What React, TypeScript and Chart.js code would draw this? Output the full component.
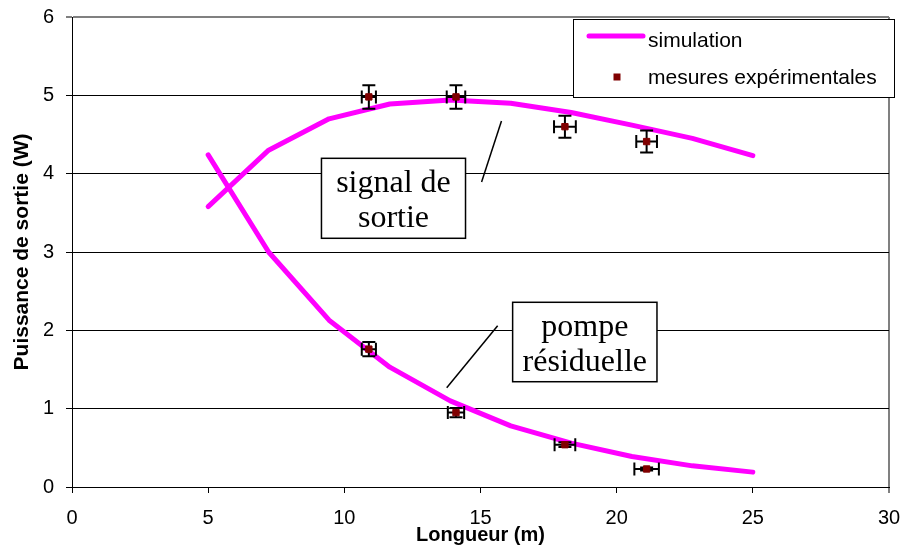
import React, { useEffect, useRef } from "react";
import { Chart, registerables } from "chart.js";

Chart.register(...registerables);

// Simulated output power along the fibre length (m → W)
const simLength = [5, 7.22, 9.44, 11.67, 13.89, 16.11, 18.33, 20.56, 22.78, 25];
const simSignal = [3.58, 4.3, 4.7, 4.89, 4.94, 4.9, 4.78, 4.62, 4.45, 4.23];
const simPump = [4.24, 3.0, 2.13, 1.53, 1.1, 0.78, 0.56, 0.39, 0.27, 0.19];

// Measured points with their uncertainties
const measLength = [10.9, 14.1, 18.1, 21.1];
const measSignal = [4.98, 4.98, 4.6, 4.41];
const measPump = [1.76, 0.95, 0.54, 0.23];
const signalErrX = [0.26, 0.34, 0.4, 0.38];
const signalErrY = [0.15, 0.15, 0.14, 0.14];
const pumpErrX = [0.26, 0.3, 0.38, 0.45];
const pumpErrY = [0.09, 0.06, 0.03, 0.02];

const xTicks = [0, 5, 10, 15, 20, 25, 30];
const yTicks = [0, 1, 2, 3, 4, 5, 6];
const legendLabels = ["simulation", "mesures expérimentales"];
const xTitle = "Longueur (m)";
const yTitle = "Puissance de sortie (W)";

const SANS = "'Liberation Sans', Arial, sans-serif";
const SERIF = "'Liberation Serif', 'Times New Roman', serif";
const MAGENTA = "#FF00FF";
const MARKER = "#800000";

// Callout boxes, placed in axis units
const callouts = [
  {
    lines: ["signal de", "sortie"],
    box: { x0: 9.16, x1: 14.45, y0: 4.196, y1: 3.175 },
    leader: { xa: 15.77, ya: 4.673, xb: 15.04, yb: 3.894 },
  },
  {
    lines: ["pompe", "résiduelle"],
    box: { x0: 16.18, x1: 21.48, y0: 2.358, y1: 1.344 },
    leader: { xa: 15.63, ya: 2.059, xb: 13.76, yb: 1.268 },
  },
];

const errorBarsPlugin = {
  id: "errorBars",
  beforeDatasetDraw(chart: any, args: any) {
    const ds = chart.data.datasets[args.index];
    if (!ds.errX) return;
    const xs = chart.scales.x;
    const ys = chart.scales.y;
    const ctx = chart.ctx;
    const cap = 6.5;
    ctx.save();
    ctx.strokeStyle = "#000";
    ctx.lineWidth = 2;
    ds.data.forEach((p: any, i: number) => {
      const px = xs.getPixelForValue(p.x);
      const py = ys.getPixelForValue(p.y);
      const xl = xs.getPixelForValue(p.x - ds.errX[i]);
      const xr = xs.getPixelForValue(p.x + ds.errX[i]);
      const yt = ys.getPixelForValue(p.y + ds.errY[i]);
      const yb = ys.getPixelForValue(p.y - ds.errY[i]);
      ctx.beginPath();
      ctx.moveTo(xl, py);
      ctx.lineTo(xr, py);
      ctx.moveTo(xl, py - cap);
      ctx.lineTo(xl, py + cap);
      ctx.moveTo(xr, py - cap);
      ctx.lineTo(xr, py + cap);
      ctx.moveTo(px, yt);
      ctx.lineTo(px, yb);
      ctx.moveTo(px - cap, yt);
      ctx.lineTo(px + cap, yt);
      ctx.moveTo(px - cap, yb);
      ctx.lineTo(px + cap, yb);
      ctx.stroke();
    });
    ctx.restore();
  },
};

const decorPlugin = {
  id: "decor",
  afterDraw(chart: any) {
    const ctx = chart.ctx;
    const xs = chart.scales.x;
    const ys = chart.scales.y;
    ctx.save();

    // callouts
    callouts.forEach((c) => {
      const bx0 = xs.getPixelForValue(c.box.x0);
      const bx1 = xs.getPixelForValue(c.box.x1);
      const by0 = ys.getPixelForValue(c.box.y0);
      const by1 = ys.getPixelForValue(c.box.y1);
      ctx.fillStyle = "#fff";
      ctx.fillRect(bx0, by0, bx1 - bx0, by1 - by0);
      ctx.strokeStyle = "#000";
      ctx.lineWidth = 1.5;
      ctx.strokeRect(bx0, by0, bx1 - bx0, by1 - by0);
      ctx.fillStyle = "#000";
      ctx.font = `32px ${SERIF}`;
      ctx.textAlign = "center";
      ctx.textBaseline = "alphabetic";
      const cx = (bx0 + bx1) / 2;
      ctx.fillText(c.lines[0], cx, by0 + 34);
      ctx.fillText(c.lines[1], cx, by0 + 69);
      ctx.beginPath();
      ctx.lineWidth = 1.5;
      ctx.moveTo(xs.getPixelForValue(c.leader.xa), ys.getPixelForValue(c.leader.ya));
      ctx.lineTo(xs.getPixelForValue(c.leader.xb), ys.getPixelForValue(c.leader.yb));
      ctx.stroke();
    });

    // legend
    const lx0 = 565, ly0 = 11, lx1 = 886, ly1 = 89;
    ctx.fillStyle = "#fff";
    ctx.fillRect(lx0, ly0, lx1 - lx0, ly1 - ly0);
    ctx.strokeStyle = "#000";
    ctx.lineWidth = 1;
    ctx.strokeRect(lx0 + 0.5, ly0 + 0.5, lx1 - lx0, ly1 - ly0);
    ctx.strokeStyle = MAGENTA;
    ctx.lineWidth = 5;
    ctx.lineCap = "round";
    ctx.beginPath();
    ctx.moveTo(581, 28);
    ctx.lineTo(635, 28);
    ctx.stroke();
    ctx.fillStyle = MARKER;
    ctx.fillRect(605.5, 65.5, 7, 7);
    ctx.fillStyle = "#000";
    ctx.font = `21px ${SANS}`;
    ctx.textAlign = "left";
    ctx.textBaseline = "alphabetic";
    ctx.fillText(legendLabels[0], 640, 38.5);
    ctx.fillText(legendLabels[1], 640, 75.5);
    ctx.restore();
  },
};

const zeroPadding = (s: any) => {
  s.paddingLeft = 0;
  s.paddingRight = 0;
  s.paddingTop = 0;
  s.paddingBottom = 0;
};

export default function App() {
  const ref = useRef<HTMLCanvasElement | null>(null);

  useEffect(() => {
    if (!ref.current) return;
    // the wrapper supplies the 8px inset itself, so the page fits the window exactly
    const prevMargin = document.body.style.margin;
    document.body.style.margin = "0";
    const chart = new Chart(ref.current, {
      type: "scatter",
      data: {
        datasets: [
          {
            label: legendLabels[1],
            data: measLength.map((x, i) => ({ x, y: measSignal[i] })),
            errX: signalErrX,
            errY: signalErrY,
            pointStyle: "rect",
            pointRadius: 4.5,
            pointBorderWidth: 1,
            backgroundColor: MARKER,
            borderColor: MARKER,
          } as any,
          {
            label: legendLabels[1],
            data: measLength.map((x, i) => ({ x, y: measPump[i] })),
            errX: pumpErrX,
            errY: pumpErrY,
            pointStyle: "rect",
            pointRadius: 4.5,
            pointBorderWidth: 1,
            backgroundColor: MARKER,
            borderColor: MARKER,
          } as any,
          {
            label: legendLabels[0],
            data: simLength.map((x, i) => ({ x, y: simSignal[i] })),
            showLine: true,
            borderColor: MAGENTA,
            borderWidth: 5,
            borderCapStyle: "round",
            borderJoinStyle: "round",
            pointRadius: 0,
          } as any,
          {
            label: legendLabels[0],
            data: simLength.map((x, i) => ({ x, y: simPump[i] })),
            showLine: true,
            borderColor: MAGENTA,
            borderWidth: 5,
            borderCapStyle: "round",
            borderJoinStyle: "round",
            pointRadius: 0,
          } as any,
        ],
      },
      options: {
        animation: false,
        responsive: true,
        maintainAspectRatio: false,
        layout: { padding: { top: 9, right: 17, left: 0, bottom: 0 } },
        plugins: {
          legend: { display: false },
          tooltip: { enabled: false },
        },
        scales: {
          x: {
            type: "linear",
            min: 0,
            max: 30,
            afterBuildTicks: (s: any) => {
              s.ticks = xTicks.map((v) => ({ value: v }));
            },
            afterFit: (s: any) => {
              s.height = 61;
              zeroPadding(s);
            },
            ticks: {
              color: "#000",
              font: { family: SANS, size: 20 },
              padding: 13,
              maxRotation: 0,
            },
            grid: {
              drawOnChartArea: true,
              color: (c: any) => (c.tick && c.tick.value === 30 ? "#808080" : "rgba(0,0,0,0)"),
              lineWidth: (c: any) => (c.tick && c.tick.value === 30 ? 2 : 1),
              tickColor: "#000",
              tickLength: 6,
              tickWidth: 1,
            },
            border: { display: true, color: "#000", width: 1 },
            title: {
              display: true,
              text: xTitle,
              color: "#000",
              font: { family: SANS, size: 20, weight: "bold", lineHeight: 1 },
              padding: { top: 0, bottom: 3 },
            },
          },
          y: {
            type: "linear",
            min: 0,
            max: 6,
            afterBuildTicks: (s: any) => {
              s.ticks = yTicks.map((v) => ({ value: v }));
            },
            afterFit: (s: any) => {
              s.width = 64;
              zeroPadding(s);
            },
            ticks: {
              color: "#000",
              font: { family: SANS, size: 20 },
              padding: 12,
            },
            grid: {
              color: (c: any) => (c.tick && c.tick.value === 6 ? "#808080" : "#000"),
              lineWidth: (c: any) => (c.tick && c.tick.value === 6 ? 2 : 1),
              tickColor: "#000",
              tickLength: 6,
              tickWidth: 1,
            },
            border: { display: true, color: "#000", width: 1 },
            title: {
              display: true,
              text: yTitle,
              color: "#000",
              font: { family: SANS, size: 21, weight: "bold" },
              padding: { top: 2, bottom: 0 },
            },
          },
        },
      } as any,
      plugins: [errorBarsPlugin, decorPlugin],
    });
    return () => {
      chart.destroy();
      document.body.style.margin = prevMargin;
    };
  }, []);

  return (
    <div style={{ width: 898, height: 540, padding: "8px 0 0 8px", overflow: "hidden" }}>
      <div style={{ width: 898, height: 540, position: "relative" }}>
        <canvas ref={ref} />
      </div>
    </div>
  );
}
